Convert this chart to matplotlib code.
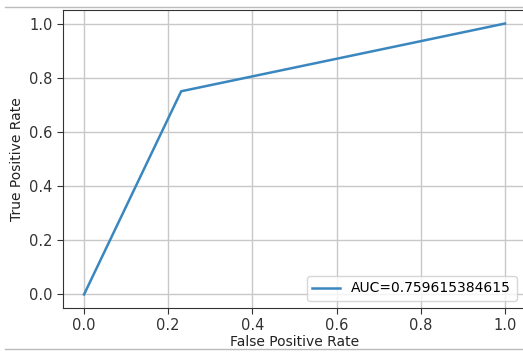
import matplotlib
matplotlib.use("Agg")
import matplotlib.pyplot as plt
from matplotlib.lines import Line2D

fpr = [0.0, 3/13, 1.0]
tpr = [0.0, 0.75, 1.0]
auc_label = "AUC=0.759615384615"
xticks = [0.0, 0.2, 0.4, 0.6, 0.8, 1.0]
yticks = [0.0, 0.2, 0.4, 0.6, 0.8, 1.0]

W, H = 523, 352
fig = plt.figure(figsize=(W/100, H/100), dpi=100)
ax = fig.add_axes([63/W, (H-308)/H, (526-63)/W, (308-10)/H])
ax.plot(fpr, tpr, color="#3a87c0", lw=1.8, label=auc_label)
ax.set_xlim(-0.05, 1.05)
ax.set_ylim(-0.05, 1.05)
ax.set_xticks(xticks)
ax.set_yticks(yticks)
ax.set_xticklabels([f"{v:.1f}" for v in xticks])
ax.set_yticklabels([f"{v:.1f}" for v in yticks])
ax.grid(True, color="#c8c8c8", lw=1)
ax.tick_params(labelsize=10.5, colors="#333333", length=4)
for s in ax.spines.values():
    s.set_color("#333333")
ax.spines["right"].set_visible(False)
ax.set_xlabel("False Positive Rate", fontsize=10, color="#222222", labelpad=1)
ax.set_ylabel("True Positive Rate", fontsize=10, color="#222222")
leg = ax.legend(loc="lower right", fontsize=10, framealpha=0.8, edgecolor="#cccccc",
                bbox_to_anchor=(0.995, 0.0))

fig.add_artist(Line2D([5/W, 1], [(H-7)/H]*2, color="#bbbbbb", lw=1, transform=fig.transFigure))
fig.add_artist(Line2D([5/W, 1], [(H-349)/H]*2, color="#bbbbbb", lw=1, transform=fig.transFigure))
fig.savefig("out.png", dpi=100)
